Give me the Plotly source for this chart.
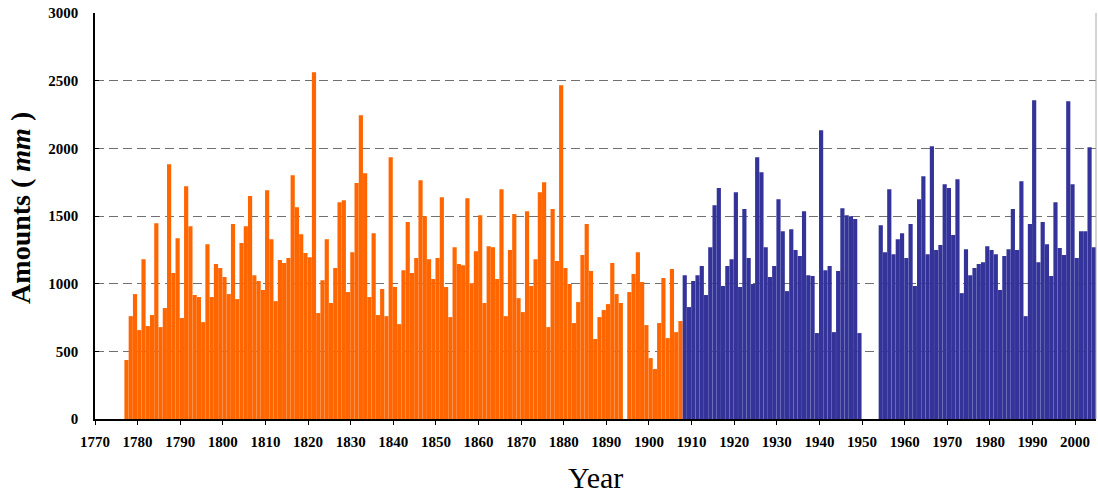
import plotly.graph_objects as go

# Early record (orange): 1777-1907, 1894 missing
early_years = [y for y in range(1777, 1908) if y != 1894]
early_mm = [
    436, 760, 923, 657, 1181, 687, 768, 1447, 679, 820,
    1883, 1078, 1336, 746, 1720, 1425, 916, 901, 716, 1292,
    901, 1145, 1115, 1049, 923, 1440, 886, 1300, 1425, 1647,
    1063, 1019, 953, 1691, 1329, 871, 1174, 1152, 1189, 1802,
    1565, 1366, 1226, 1196, 2562, 783, 1026, 1329, 857, 1115,
    1602, 1617, 938, 1233, 1743, 2245, 1816, 901, 1373, 768,
    960, 760, 1935,
    975, 701, 1100, 1455, 1078, 1189, 1765, 1499, 1181, 1034,
    1189, 1639, 975, 753, 1270, 1145, 1137, 1632, 1004, 1240,
    1506, 857, 1277, 1270, 1034, 1698, 760, 1248, 1514, 893,
    790, 1536, 982, 1181, 1676, 1750, 679, 1551, 1167, 2466,
    1115, 997, 709, 864, 1211, 1440, 1093, 591, 753, 805,
    849, 1152, 923, 857,
    938, 1071, 1233, 1012, 694, 450, 369, 709, 1041, 598,
    1108, 642, 724,
]

# Later record (blue): 1908-1949 and 1954-2004
late_years = list(range(1908, 1950)) + list(range(1954, 2005))
late_mm = [
    1063, 827, 1019, 1063, 1130, 916, 1270, 1580, 1706, 982,
    1130, 1181, 1676, 975, 1551, 1189, 997, 1935, 1824, 1270,
    1049, 1130, 1624, 1388, 945, 1403, 1248, 1204, 1536, 1063,
    1056, 635, 2134, 1100, 1130, 642, 1093, 1558, 1506, 1499,
    1477, 635,
    1432, 1233, 1698, 1218, 1329, 1373, 1189, 1440, 982, 1624,
    1794, 1218, 2016, 1248, 1285, 1735, 1706, 1359, 1772, 930,
    1255, 1063, 1115, 1145, 1159, 1277, 1248, 1218, 953, 1204,
    1255, 1551, 1248, 1757, 760, 1440, 2355, 1159, 1455, 1292,
    1056, 1602, 1263, 1211, 2348, 1735, 1189, 1388, 1388, 2008,
    1270,
]

x_ticks = list(range(1770, 2001, 10))
y_ticks = [0, 500, 1000, 1500, 2000, 2500, 3000]

SERIF = "Liberation Serif, Times New Roman, serif"

fig = go.Figure()
fig.add_trace(go.Bar(x=early_years, y=early_mm, marker_color="#FF6600",
                     marker_line_width=0, width=0.98, offset=-0.1, name="early"))
fig.add_trace(go.Bar(x=late_years, y=late_mm, marker_color="#333399",
                     marker_line_width=0, width=0.98, offset=-0.1, name="late"))

fig.update_layout(
    width=1098, height=495,
    margin=dict(l=95, r=2, t=13, b=76),
    plot_bgcolor="white", paper_bgcolor="white",
    showlegend=False, barmode="overlay",
    font=dict(family=SERIF, color="black"),
)
fig.update_xaxes(
    range=[1770, 2004.9], tickmode="array", tickvals=x_ticks,
    ticktext=[str(t) for t in x_ticks],
    ticks="outside", ticklen=4, tickcolor="black", tickwidth=1,
    showline=True, linecolor="black", linewidth=1.5,
    showgrid=False, zeroline=False,
    tickfont=dict(family=SERIF, size=15, weight="bold"),
    ticklabelstandoff=4,
)
fig.update_yaxes(
    range=[0, 3000], tickmode="array", tickvals=y_ticks,
    ticks="inside", ticklen=4, tickcolor="black",
    showline=True, linecolor="black", linewidth=1.5,
    showgrid=True, gridcolor="#707070", gridwidth=1.3, griddash="9px,5px",
    zeroline=False,
    tickfont=dict(family=SERIF, size=15, weight="bold"),
    ticklabelstandoff=12,
)
fig.add_shape(type="line", xref="paper", yref="paper", x0=1, x1=1, y0=0, y1=1,
              line=dict(color="#a8a8a8", width=1))
fig.add_annotation(text="Amounts ( <i>mm</i> )", xref="paper", yref="paper",
                   x=-0.0739, y=0.52, textangle=-90, showarrow=False,
                   xanchor="center", yanchor="middle",
                   font=dict(family=SERIF, size=28, weight="bold", color="black"))
fig.add_annotation(text="Year", xref="paper", yref="paper",
                   x=0.5, y=-0.1453, showarrow=False,
                   xanchor="center", yanchor="middle",
                   font=dict(family=SERIF, size=30, color="black"))

fig.write_html("out.html", config={"displayModeBar": False},
               post_script="document.body.style.margin='0px';document.body.style.overflow='hidden';")
